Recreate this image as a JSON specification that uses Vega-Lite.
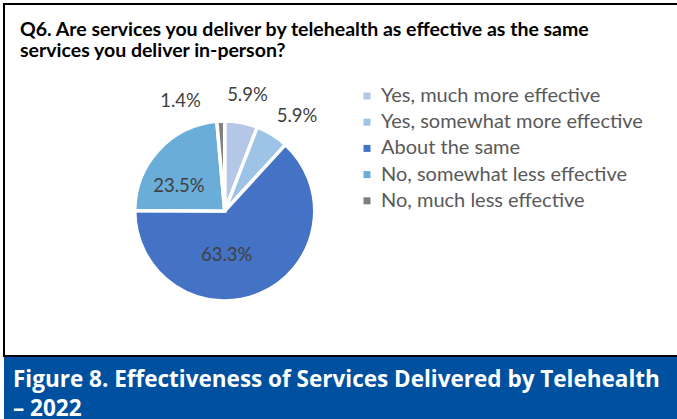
{
  "$schema": "https://vega.github.io/schema/vega-lite/v6.json",
  "padding": {"left": 3, "top": 3, "right": 0, "bottom": 0},
  "spacing": 0,
  "background": "white",
  "config": {
    "font": "Lato",
    "view": {"stroke": null}
  },
  "vconcat": [
    {
      "width": 675,
      "height": 352,
      "view": {"stroke": "#000000", "strokeWidth": 2, "fill": "white"},
      "title": {
        "text": [
          "Q6. Are services you deliver by telehealth as effective as the same",
          "services you deliver in-person?"
        ],
        "orient": "top",
        "anchor": "start",
        "frame": "group",
        "offset": -57,
        "dx": 16,
        "font": "Lato",
        "fontSize": 19.5,
        "fontWeight": "bold",
        "color": "#000000",
        "lineHeight": 21
      },
      "data": {
        "values": [
          {"idx": 1, "category": "Yes, much more effective", "share": 0.059},
          {"idx": 2, "category": "Yes, somewhat more effective", "share": 0.059},
          {"idx": 3, "category": "About the same", "share": 0.633},
          {"idx": 4, "category": "No, somewhat less effective", "share": 0.235},
          {"idx": 5, "category": "No, much less effective", "share": 0.014}
        ]
      },
      "encoding": {
        "theta": {"field": "share", "type": "quantitative", "stack": true},
        "order": {"field": "idx", "type": "quantitative"},
        "x": {"datum": "pie", "type": "nominal", "scale": {"type": "point", "align": 0.327}, "axis": null},
        "y": {"datum": "pie", "type": "nominal", "scale": {"type": "point", "align": 0.588}, "axis": null}
      },
      "layer": [
        {
          "mark": {"type": "arc", "radius": 90, "stroke": "white", "strokeWidth": 3.5},
          "encoding": {
            "color": {
              "field": "category",
              "type": "nominal",
              "scale": {
                "domain": [
                  "Yes, much more effective",
                  "Yes, somewhat more effective",
                  "About the same",
                  "No, somewhat less effective",
                  "No, much less effective"
                ],
                "range": ["#B4C7E7", "#9DC3E6", "#4472C4", "#6AADD9", "#7F7F7F"]
              },
              "legend": {
                "title": null,
                "orient": "none",
                "legendX": 353,
                "legendY": 82,
                "symbolType": "square",
                "symbolSize": 49,
                "symbolStrokeWidth": 0,
                "labelFont": "Lato",
                "labelFontSize": 20,
                "labelColor": "#595959",
                "labelOffset": 4,
                "labelLimit": 400,
                "rowPadding": 6.2
              }
            }
          }
        },
        {
          "mark": {"type": "text", "radius": 118, "dx": 1, "dy": 0, "fontSize": 18.5, "color": "#404040"},
          "encoding": {
            "detail": {"field": "category"},
            "text": {"condition": {"test": "datum.idx === 1", "field": "share", "type": "quantitative", "format": ".1%"}, "value": ""}
          }
        },
        {
          "mark": {"type": "text", "radius": 118, "dx": 10, "dy": 5, "fontSize": 18.5, "color": "#404040"},
          "encoding": {
            "detail": {"field": "category"},
            "text": {"condition": {"test": "datum.idx === 2", "field": "share", "type": "quantitative", "format": ".1%"}, "value": ""}
          }
        },
        {
          "mark": {"type": "text", "radius": 50, "dx": -18, "dy": -2, "fontSize": 18.5, "color": "#404040"},
          "encoding": {
            "detail": {"field": "category"},
            "text": {"condition": {"test": "datum.idx === 3", "field": "share", "type": "quantitative", "format": ".1%"}, "value": ""}
          }
        },
        {
          "mark": {"type": "text", "radius": 50, "dx": -9, "dy": 9, "fontSize": 18.5, "color": "#404040"},
          "encoding": {
            "detail": {"field": "category"},
            "text": {"condition": {"test": "datum.idx === 4", "field": "share", "type": "quantitative", "format": ".1%"}, "value": ""}
          }
        },
        {
          "mark": {"type": "text", "radius": 118, "dx": -39, "dy": 8, "fontSize": 18.5, "color": "#404040"},
          "encoding": {
            "detail": {"field": "category"},
            "text": {"condition": {"test": "datum.idx === 5", "field": "share", "type": "quantitative", "format": ".1%"}, "value": ""}
          }
        }
      ]
    },
    {
      "width": 675,
      "height": 64,
      "view": {"stroke": null, "fill": "#0050A0"},
      "title": {
        "text": [
          "Figure 8. Effectiveness of Services Delivered by Telehealth",
          "– 2022"
        ],
        "orient": "top",
        "anchor": "start",
        "frame": "group",
        "offset": -63.5,
        "dx": 9,
        "font": "Open Sans",
        "fontSize": 22.5,
        "fontWeight": "bold",
        "color": "#FFFFFF",
        "lineHeight": 29
      },
      "data": {"values": [{"note": ""}]},
      "mark": {"type": "text"},
      "encoding": {"text": {"field": "note"}}
    }
  ]
}
